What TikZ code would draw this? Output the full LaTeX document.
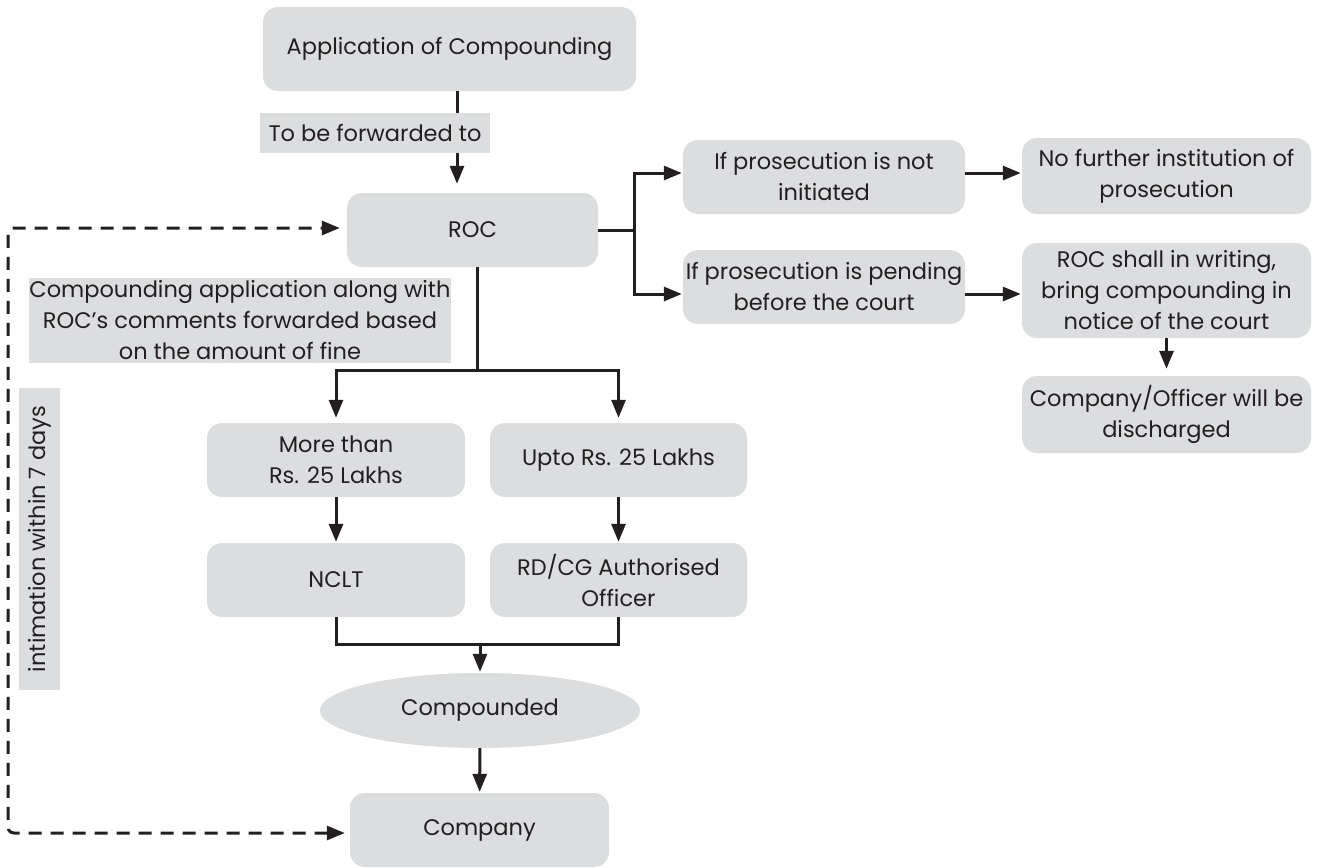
\documentclass[tikz,border=0pt]{standalone}
\usepackage{fontspec}
\setmainfont{Poppins}
\usetikzlibrary{arrows.meta,shapes.geometric,calc}
\definecolor{boxgray}{HTML}{DCDDDF}
\definecolor{ink}{HTML}{231F20}
\begin{document}
\begin{tikzpicture}[x=1pt,y=-1pt,
  every node/.style={font=\fontsize{22.5}{31}\selectfont, text=ink},
  sz/.style 2 args={minimum width=#1, minimum height=#2},
  box/.style={fill=boxgray, rounded corners=15pt, align=center, inner sep=0pt},
  oval/.style={ellipse, fill=boxgray, align=center, inner sep=0pt},
  tag/.style={fill=boxgray, align=center, inner sep=0pt},
  tip/.style={-{Triangle[length=18pt,width=14pt]}},
  link/.style={draw=ink, line width=3pt},
  arr/.style={link, tip, shorten >=3pt},
  intim/.style={draw=ink, line width=3pt, dash pattern=on 13pt off 9pt,
    rounded corners=6pt}]
\useasboundingbox (0,0) rectangle (1321,867);

% main column
\node[box, sz={373pt}{84pt}] (app) at (449.5,49) {Application of Compounding};
\node[box, sz={251pt}{74pt}] (roc) at (472.5,230) {ROC};
\node[box, sz={258pt}{74pt}] (more) at (336,460) {More than\\Rs. 25 Lakhs};
\node[box, sz={257pt}{74pt}] (upto) at (618.5,460) {Upto Rs. 25 Lakhs};
\node[box, sz={258pt}{74pt}] (nclt) at (336,580) {NCLT};
\node[box, sz={257pt}{74pt}] (rdcg) at (618.5,580) {RD/CG Authorised\\Officer};
\node[oval, minimum width=320pt, minimum height=75pt] (cmp) at (480,710.5) {Compounded};
\node[box, sz={259pt}{74pt}] (company) at (479.5,830) {Company};

% right branch
\node[box, sz={282pt}{74pt}] (notinit) at (824,177) {If prosecution is not\\initiated};
\node[box, sz={289pt}{76pt}] (nofurther) at (1166.5,176) {No further institution of\\prosecution};
\node[box, sz={282pt}{74pt}] (pending) at (824,287) {If prosecution is pending\\before the court};
\node[box, sz={289pt}{95pt}] (rocshall) at (1166.5,290.5) {ROC shall in writing,\\bring compounding in\\notice of the court};
\node[box, sz={289pt}{77pt}] (discharged) at (1166.5,414.5) {Company/Officer will be\\discharged};

% routing points
\coordinate (fwdx) at (457,0);
\coordinate (split) at (477,370);
\coordinate (merge) at (480,644);
\coordinate (rsplit) at (634,230);
\coordinate (ya) at (0,173);
\coordinate (yb) at (0,294);
\coordinate (dtop) at (8,228);
\coordinate (dbot) at (8,833);

% connectors
\draw[arr, shorten >=9pt] (app.south -| fwdx) -- (roc.north -| fwdx);
\draw[link] (roc.south -| split) -- (split);
\draw[arr, shorten >=5pt] (split) -| (more.north);
\draw[arr, shorten >=5pt] (split) -| (upto.north);
\draw[arr, shorten >=1pt] (more) -- (nclt);
\draw[arr, shorten >=1pt] (upto) -- (rdcg);
\draw[link] (nclt.south) |- (merge) -| (rdcg.south);
\draw[arr, shorten >=1pt] (merge) -- (cmp.north);
\draw[arr, shorten >=1pt] (cmp) -- (company);

\draw[link] (roc.east |- rsplit) -- (rsplit);
\draw[arr, shorten >=1pt] (rsplit) |- (notinit.west |- ya);
\draw[arr, shorten >=1pt] (rsplit) |- (pending.west |- yb);
\draw[arr, shorten >=1pt] (notinit.east |- ya) -- (nofurther.west |- ya);
\draw[arr, shorten >=1pt] (pending.east |- yb) -- (rocshall.west |- yb);
\draw[arr, shorten >=7pt] (rocshall) -- (discharged);

\draw[intim, {Triangle[length=18pt,width=14pt]}-{Triangle[length=18pt,width=14pt]},
  shorten <=5pt, shorten >=7pt]
  (company.west |- dbot) -- (dbot) -- (dtop) -- (roc.west |- dtop);

% labels on the connectors
\node[tag, minimum width=230pt, minimum height=40pt] (fwd) at (375,133) {To be forwarded to};
\node[tag, minimum width=420pt, minimum height=85pt] (basis) at (240,320.5)
  {Compounding application along with\\ROC’s comments forwarded based\\on the amount of fine};
\node[tag, rotate=90, minimum width=302pt, minimum height=41pt] (days) at (39.5,539)
  {intimation within 7 days};
\end{tikzpicture}
\end{document}
